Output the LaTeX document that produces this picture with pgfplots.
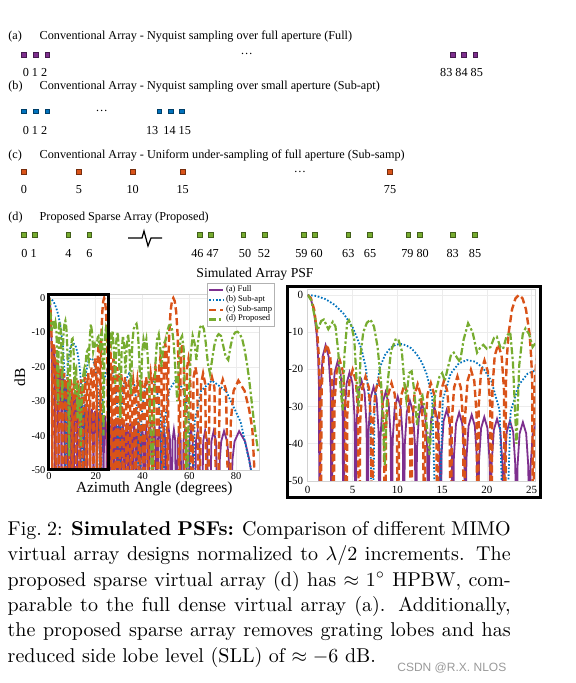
\documentclass[border=0pt]{standalone}
\usepackage{pgfplots}
\pgfplotsset{compat=1.18}
\usepackage{pgfplotstable}
\usepackage{fontspec}
\newfontfamily\tnr{Liberation Serif}
\newfontfamily\arial{Liberation Sans}
\definecolor{cA}{HTML}{7E2F8E}
\definecolor{cB}{HTML}{0072BD}
\definecolor{cC}{HTML}{D95319}
\definecolor{cD}{HTML}{77AC30}

% (a) Full: 86 elements
\pgfplotstableread[row sep=\\]{
t d\\
0 0\\ 0.33 -0.9\\ 0.67 -3.9\\ 1.0 -10.5\\ 1.17 -17.1\\ 1.25 -24\\ 1.332 -80\\
1.439 -25.5\\ 1.666 -16.5\\ 1.999 -13.5\\ 2.333 -16.5\\ 2.559 -25.5\\ 2.666 -80\\
2.773 -29.9\\ 3.000 -20.9\\ 3.334 -17.9\\ 3.667 -20.9\\ 3.894 -29.9\\ 4.001 -80\\
4.108 -32.8\\ 4.335 -23.8\\ 4.669 -20.8\\ 5.003 -23.8\\ 5.230 -32.8\\ 5.337 -80\\
5.444 -35\\ 5.672 -26\\ 6.007 -23\\ 6.342 -26\\ 6.570 -35\\ 6.677 -80\\
6.784 -36.7\\ 7.013 -27.7\\ 7.349 -24.7\\ 7.684 -27.7\\ 7.913 -36.7\\ 8.020 -80\\
8.128 -38.1\\ 8.357 -29.1\\ 8.695 -26.1\\ 9.032 -29.1\\ 9.261 -38.1\\ 9.369 -80\\
9.477 -39.3\\ 9.707 -30.3\\ 10.046 -27.3\\ 10.384 -30.3\\ 10.614 -39.3\\ 10.722 -80\\
10.831 -40.4\\ 11.062 -31.4\\ 11.402 -28.4\\ 11.741 -31.4\\ 11.972 -40.4\\ 12.081 -80\\
12.190 -41.3\\ 12.423 -32.3\\ 12.764 -29.3\\ 13.106 -32.3\\ 13.338 -41.3\\ 13.447 -80\\
13.557 -42.2\\ 13.790 -33.2\\ 14.134 -30.2\\ 14.477 -33.2\\ 14.710 -42.2\\ 14.82 -80\\
14.93 -42.9\\ 15.165 -33.9\\ 15.51 -30.9\\ 15.855 -33.9\\ 16.09 -42.9\\ 16.20 -80\\
16.31 -43.6\\ 16.55 -34.6\\ 16.90 -31.6\\ 17.25 -34.6\\ 17.49 -43.6\\ 17.60 -80\\
17.71 -44.2\\ 17.95 -35.2\\ 18.30 -32.2\\ 18.65 -35.2\\ 18.89 -44.2\\ 19.00 -80\\
19.11 -44.8\\ 19.35 -35.8\\ 19.705 -32.8\\ 20.06 -35.8\\ 20.30 -44.8\\ 20.41 -80\\
20.53 -45.3\\ 20.77 -36.3\\ 21.13 -33.3\\ 21.49 -36.3\\ 21.73 -45.3\\ 21.85 -80\\
21.97 -45.8\\ 22.21 -36.8\\ 22.57 -33.8\\ 22.93 -36.8\\ 23.17 -45.8\\ 23.29 -80\\
23.41 -46.2\\ 23.65 -37.2\\ 24.015 -34.2\\ 24.38 -37.2\\ 24.62 -46.2\\ 24.74 -80\\
24.86 -46.6\\ 25.11 -37.6\\ 25.48 -34.6\\ 25.85 -37.6\\ 26.10 -46.6\\ 26.22 -80\\
26.60 -38\\ 26.97 -35\\ 27.35 -38\\ 27.72 -80\\
28.10 -38.4\\ 28.48 -35.4\\ 28.85 -38.4\\ 29.23 -80\\
29.62 -38.7\\ 30.00 -35.7\\ 30.39 -38.7\\ 30.77 -80\\
31.16 -39\\ 31.55 -36\\ 31.94 -39\\ 32.33 -80\\
32.73 -39.3\\ 33.13 -36.3\\ 33.53 -39.3\\ 33.93 -80\\
34.34 -39.5\\ 34.74 -36.5\\ 35.15 -39.5\\ 35.55 -80\\
35.96 -39.8\\ 36.38 -36.8\\ 36.79 -39.8\\ 37.20 -80\\
37.62 -40\\ 38.05 -37\\ 38.47 -40\\ 38.89 -80\\
39.33 -40.2\\ 39.76 -37.2\\ 40.20 -40.2\\ 40.63 -80\\
41.08 -40.4\\ 41.52 -37.4\\ 41.97 -40.4\\ 42.41 -80\\
42.87 -40.6\\ 43.33 -37.6\\ 43.78 -40.6\\ 44.24 -80\\
44.71 -40.8\\ 45.19 -37.8\\ 45.66 -40.8\\ 46.13 -80\\
46.62 -40.9\\ 47.11 -37.9\\ 47.60 -40.9\\ 48.09 -80\\
48.60 -41\\ 49.11 -38\\ 49.62 -41\\ 50.13 -80\\
50.66 -41.2\\ 51.19 -38.2\\ 51.72 -41.2\\ 52.25 -80\\
52.81 -41.3\\ 53.37 -38.3\\ 53.92 -41.3\\ 54.48 -80\\
55.07 -41.4\\ 55.67 -38.4\\ 56.26 -41.4\\ 56.85 -80\\
57.48 -41.5\\ 58.11 -38.5\\ 58.73 -41.5\\ 59.36 -80\\
60.04 -41.5\\ 60.72 -38.5\\ 61.40 -41.5\\ 62.08 -80\\
62.8 -41.6\\ 63.55 -38.6\\ 64.3 -41.6\\ 65.08 -80\\
65.9 -41.6\\ 66.73 -38.6\\ 67.6 -41.6\\ 68.46 -80\\
69.4 -41.7\\ 70.38 -38.7\\ 71.4 -41.7\\ 72.45 -80\\
73.0 -47\\ 73.6 -41.7\\ 74.8 -38.7\\ 76.14 -41.7\\ 76.85 -47\\ 77.62 -80\\
78.4 -47\\ 79.3 -41.7\\ 81.26 -38.7\\ 83.8 -41.7\\ 85.6 -47\\ 86.9 -52.7\\ 90 -80\\
}\tA

% (b) Sub-apt: 16 elements
\pgfplotstableread[row sep=\\]{
t d\\
0 0\\ 1 -0.28\\ 2 -1.13\\ 3 -2.66\\ 4 -5.0\\ 5 -8.6\\ 6 -14.5\\ 6.5 -19.7\\ 7 -31.8\\ 7.18 -80\\
7.47 -28.3\\ 8.05 -19.5\\ 8.63 -16.1\\ 9.21 -14.3\\ 9.79 -13.4\\ 10.37 -13.15\\ 10.95 -13.5\\ 11.54 -14.3\\ 12.12 -15.8\\ 12.71 -18.0\\ 13.30 -21.4\\ 13.89 -27.5\\ 14.48 -80\\
15.07 -28.2\\ 15.96 -21.1\\ 16.86 -18.4\\ 17.76 -17.5\\ 18.66 -17.9\\ 19.57 -19.6\\ 20.49 -23.1\\ 21.41 -30.9\\ 22.02 -80\\
22.64 -31.3\\ 23.58 -24.1\\ 24.52 -21.2\\ 25.47 -20.2\\ 26.42 -20.4\\ 27.39 -22.0\\ 28.36 -25.3\\ 29.34 -33.0\\ 30.0 -80\\
30.66 -33.9\\ 32.09 -24.9\\ 34.23 -21.9\\ 36.42 -24.9\\ 37.95 -33.9\\ 38.68 -80\\
39.42 -35\\ 41.01 -26\\ 43.43 -23\\ 45.95 -26\\ 47.73 -35\\ 48.59 -80\\
49.46 -35.7\\ 51.38 -26.7\\ 54.34 -23.7\\ 57.52 -26.7\\ 59.88 -35.7\\ 61.04 -80\\
62.25 -36\\ 64.99 -27\\ 69.64 -24\\ 75.65 -27\\ 81.89 -36\\ 86.4 -50\\ 90 -80\\
}\tB

% (c) Sub-samp: 16 elements, spacing 5
\pgfplotstableread[row sep=\\]{
t d\\
0 0\\ 0.358 -0.9\\ 0.717 -3.9\\ 1.075 -10.5\\ 1.254 -17.1\\ 1.347 -24\\ 1.433 -80\\
1.548 -25.3\\ 1.791 -16.3\\ 2.150 -13.3\\ 2.508 -16.3\\ 2.751 -25.3\\ 2.866 -80\\
2.981 -29.6\\ 3.225 -20.6\\ 3.584 -17.6\\ 3.942 -20.6\\ 4.186 -29.6\\ 4.301 -80\\
4.416 -32.1\\ 4.661 -23.1\\ 5.020 -20.1\\ 5.380 -23.1\\ 5.624 -32.1\\ 5.739 -80\\
5.854 -33.9\\ 6.100 -24.9\\ 6.460 -21.9\\ 6.821 -24.9\\ 7.066 -33.9\\ 7.181 -80\\
7.297 -35\\ 7.543 -26\\ 7.904 -23\\ 8.266 -26\\ 8.511 -35\\ 8.627 -80\\
8.743 -35.7\\ 8.990 -26.7\\ 9.353 -23.7\\ 9.715 -26.7\\ 9.962 -35.7\\ 10.078 -80\\
10.195 -36\\ 10.443 -27\\ 10.808 -24\\ 11.172 -27\\ 11.420 -36\\ 11.537 -80\\
11.654 -36\\ 11.904 -27\\ 12.271 -24\\ 12.637 -27\\ 12.887 -36\\ 13.004 -80\\
13.122 -35.7\\ 13.373 -26.7\\ 13.741 -23.7\\ 14.110 -26.7\\ 14.360 -35.7\\ 14.478 -80\\
14.597 -35\\ 14.849 -26\\ 15.220 -23\\ 15.591 -26\\ 15.843 -35\\ 15.962 -80\\
16.082 -33.9\\ 16.336 -24.9\\ 16.710 -21.9\\ 17.084 -24.9\\ 17.338 -33.9\\ 17.458 -80\\
17.579 -32.1\\ 17.835 -23.1\\ 18.212 -20.1\\ 18.589 -23.1\\ 18.845 -32.1\\ 18.966 -80\\
19.088 -29.6\\ 19.346 -20.6\\ 19.727 -17.6\\ 20.107 -20.6\\ 20.365 -29.6\\ 20.487 -80\\
20.610 -25.3\\ 20.871 -16.3\\ 21.256 -13.3\\ 21.640 -16.3\\ 21.901 -25.3\\ 22.024 -80\\
22.12 -24\\ 22.22 -17.1\\ 22.41 -10.5\\ 22.80 -3.9\\ 23.19 -0.9\\ 23.578 0\\ 23.97 -0.9\\ 24.36 -3.9\\ 24.76 -10.5\\ 24.95 -17.1\\ 25.06 -24\\ 25.15 -80\\
25.28 -25.3\\ 25.55 -16.3\\ 25.95 -13.3\\ 26.35 -16.3\\ 26.62 -25.3\\ 26.744 -80\\
27.15 -20.6\\ 27.55 -17.6\\ 27.96 -20.6\\ 28.36 -80\\
28.77 -23.1\\ 29.18 -20.1\\ 29.59 -23.1\\ 30.0 -80\\
30.42 -24.9\\ 30.83 -21.9\\ 31.25 -24.9\\ 31.668 -80\\
32.09 -26\\ 32.52 -23\\ 32.94 -26\\ 33.367 -80\\
33.80 -26.7\\ 34.23 -23.7\\ 34.66 -26.7\\ 35.097 -80\\
35.54 -27\\ 35.98 -24\\ 36.43 -27\\ 36.87 -80\\
37.32 -27\\ 37.78 -24\\ 38.23 -27\\ 38.682 -80\\
39.15 -26.7\\ 39.61 -23.7\\ 40.08 -26.7\\ 40.542 -80\\
41.02 -26\\ 41.50 -23\\ 41.98 -26\\ 42.455 -80\\
42.95 -24.9\\ 43.44 -21.9\\ 43.95 -24.9\\ 44.427 -80\\
44.94 -23.1\\ 45.45 -20.1\\ 45.96 -23.1\\ 46.469 -80\\
47.00 -20.6\\ 47.53 -17.6\\ 48.06 -20.6\\ 48.59 -80\\
49.14 -16.3\\ 49.70 -13.3\\ 50.25 -16.3\\ 50.805 -80\\
50.94 -24\\ 51.09 -17.1\\ 51.38 -10.5\\ 51.95 -3.9\\ 52.53 -0.9\\ 53.13 0\\ 53.73 -0.9\\ 54.34 -3.9\\ 54.96 -10.5\\ 55.27 -17.1\\ 55.43 -24\\ 55.59 -80\\
56.25 -16.3\\ 56.90 -13.3\\ 57.56 -16.3\\ 58.212 -80\\
58.92 -20.6\\ 59.63 -17.6\\ 60.34 -20.6\\ 61.045 -80\\
61.79 -23.1\\ 62.57 -20.1\\ 63.35 -23.1\\ 64.158 -80\\
64.99 -24.9\\ 65.86 -21.9\\ 66.76 -24.9\\ 67.668 -80\\
68.63 -26\\ 69.64 -23\\ 70.70 -26\\ 71.805 -80\\
72.99 -26.7\\ 74.27 -23.7\\ 75.65 -26.7\\ 77.161 -80\\
77.7 -36\\ 78.89 -27\\ 80.93 -24\\ 83.59 -27\\ 85.5 -32.3\\ 86.9 -38\\ 90 -80\\
}\tC

% (d) Proposed sparse array
\pgfplotstableread[row sep=\\]{
t d\\
0 0\\ 0.4 -1.5\\ 0.8 -6\\ 1.1 -9.5\\ 1.5 -7\\ 1.8 -6.6\\ 2.3 -9.2\\ 2.8 -7.2\\ 3.1 -8.5\\ 3.4 -15\\ 3.7 -26\\ 3.9 -31\\
4.1 -16\\ 4.4 -7.5\\ 4.6 -6.8\\ 4.9 -8.5\\ 5.2 -12\\ 5.5 -25\\ 5.7 -30\\ 5.9 -16\\ 6.2 -10\\ 6.6 -7.5\\ 7.0 -6.6\\ 7.4 -8.5\\
7.8 -14\\ 8.2 -24\\ 8.6 -46\\ 8.9 -24\\ 9.3 -15\\ 9.8 -12\\ 10.1 -11.8\\ 10.5 -15\\ 10.8 -24\\ 11.0 -28\\ 11.3 -21\\ 11.6 -20.5\\
11.9 -26\\ 12.2 -35\\ 12.5 -28\\ 12.8 -27\\ 13.2 -33\\ 13.6 -43\\ 13.9 -31\\ 14.3 -26\\ 14.7 -22\\ 15.0 -21\\ 15.3 -23\\ 15.6 -20\\
16.0 -16\\ 16.3 -15.5\\ 16.7 -17\\ 17.0 -18\\ 17.4 -12\\ 17.9 -7.6\\ 18.4 -10\\ 18.9 -15.5\\ 19.3 -14\\ 19.6 -13.4\\ 20.0 -14.5\\
20.4 -14\\ 20.8 -11.5\\ 21.1 -11.2\\ 21.5 -14\\ 21.8 -14.5\\ 22.2 -11\\ 22.6 -10\\ 22.9 -18\\ 23.3 -40\\ 23.6 -19\\ 24.0 -10.5\\
24.3 -9\\ 24.7 -10.5\\ 25.1 -14\\ 25.4 -13\\ 26.0 -10\\ 26.6 -13\\ 27.2 -9.5\\ 27.8 -16\\ 28.3 -25\\ 28.8 -12\\ 29.4 -10\\
30.0 -18\\ 30.5 -35\\ 31.0 -16\\ 31.6 -11\\ 32.2 -14\\ 32.7 -22\\ 33.2 -14\\ 33.8 -10.5\\ 34.4 -15\\ 35.0 -28\\ 35.6 -13\\
36.2 -9\\ 36.8 -8\\ 37.4 -7.5\\ 38.0 -10\\ 38.6 -18\\ 39.2 -30\\ 39.8 -16\\ 40.4 -12\\ 41.0 -14\\ 41.6 -12\\ 42.2 -17\\
42.8 -25\\ 43.5 -40\\ 44.2 -60\\ 44.9 -30\\ 45.6 -18\\ 46.2 -12\\ 46.9 -10.5\\ 47.5 -14\\ 48.1 -20\\ 48.7 -15\\ 49.3 -13\\
50.0 -12\\ 50.6 -9.5\\ 51.3 -8\\ 52.0 -7.8\\ 52.7 -9.5\\ 53.4 -14\\ 54.1 -22\\ 54.8 -30\\ 55.5 -18\\ 56.2 -12\\ 56.9 -11\\
57.6 -15\\ 58.3 -35\\ 59.0 -60\\ 59.8 -28\\ 60.6 -16\\ 61.4 -11\\ 62.2 -13\\ 63.0 -18\\ 63.8 -12\\ 64.6 -8.5\\ 65.4 -7.8\\
66.2 -9\\ 67.0 -13\\ 67.9 -19\\ 68.8 -22\\ 69.7 -18\\ 70.6 -14\\ 71.5 -11.5\\ 72.5 -10.5\\ 73.5 -11\\ 74.5 -14\\ 75.5 -17\\
76.6 -18\\ 77.6 -14\\ 78.6 -11\\ 79.6 -10\\ 80.6 -9.8\\ 81.6 -10.5\\ 82.6 -12\\ 83.6 -15\\ 84.6 -19\\ 85.6 -24\\ 86.6 -30\\
87.6 -36\\ 88.6 -41\\ 89.5 -45\\
}\tD

\pgfplotsset{
  sA/.style={color=cA, line width=0.9pt, solid},
  sB/.style={color=cB, line width=0.9pt, dash pattern=on 0.8pt off 0.9pt},
  sC/.style={color=cC, line width=1.2pt, dash pattern=on 3.6pt off 1.8pt},
  sD/.style={color=cD, line width=1.1pt, dash pattern=on 3.6pt off 1.2pt on 1.2pt off 1.2pt},
  psf/.style={scale only axis, anchor=south west, ymin=-50,
    grid=major, grid style={draw=gray!15, line width=0.3pt},
    axis line style={draw=gray!35, line width=0.3pt},
    major tick length=0pt,
    ytick={-50,-40,-30,-20,-10,0},
    /pgf/number format/assume math mode=true,
    clip mode=individual},
  sq/.style={only marks, mark=square*, mark size=1.17pt,
    mark options={fill=#1, draw=#1!55!black, line width=0.35pt}},
}

\begin{document}
\begin{tikzpicture}
\useasboundingbox (0,0) rectangle (287.5pt,341.5pt);
% ---------- background / diagram axis (pixel coordinates) ----------
\begin{axis}[at={(0pt,0pt)}, anchor=south west, scale only axis,
  width=287.5pt, height=341.5pt, xmin=0, xmax=575, ymin=0, ymax=683,
  y dir=reverse, hide axis, clip=false]
\tikzset{dt/.style={font=\tnr\fontsize{6.1}{7}\selectfont, inner sep=0pt}}
% row (a)
\node[dt, anchor=base west] at (axis cs:8,39.5) {(a)};
\node[dt, anchor=base west] at (axis cs:39.3,39.5) {Conventional Array - Nyquist sampling over full aperture (Full)};
\addplot[sq=cA] coordinates {(24,54.7) (35.7,54.7) (47.3,54.7) (452.7,54.7) (464,54.7) (475.3,54.7)};
\node[dt, anchor=center] at (axis cs:246.7,54) {\ldots};
\node[dt, anchor=base] at (axis cs:35,76.7) {0 1 2};
\node[dt, anchor=base] at (axis cs:461.5,76.7) {83 84 85};
% row (b)
\node[dt, anchor=base west] at (axis cs:8,89.5) {(b)};
\node[dt, anchor=base west] at (axis cs:39.3,89.5) {Conventional Array - Nyquist sampling over small aperture (Sub-apt)};
\addplot[sq=cB] coordinates {(24,111.3) (35.7,111.3) (47.3,111.3) (159.3,111.3) (170.7,111.3) (181.7,111.3)};
\node[dt, anchor=center] at (axis cs:101.7,111) {\ldots};
\node[dt, anchor=base] at (axis cs:35,134.7) {0 1 2};
\node[dt, anchor=base] at (axis cs:168.5,134.7) {13\, 14 15};
% row (c)
\node[dt, anchor=base west] at (axis cs:8,158.5) {(c)};
\node[dt, anchor=base west] at (axis cs:39.3,158.5) {Conventional Array - Uniform under-sampling of full aperture (Sub-samp)};
\addplot[sq=cC] coordinates {(24,171.7) (79,171.7) (132.7,171.7) (182.7,171.7) (390,171.7)};
\node[dt, anchor=center] at (axis cs:300,171.5) {\ldots};
\node[dt, anchor=base] at (axis cs:24,193.3) {0};
\node[dt, anchor=base] at (axis cs:79,193.3) {5};
\node[dt, anchor=base] at (axis cs:132.7,193.3) {10};
\node[dt, anchor=base] at (axis cs:182.7,193.3) {15};
\node[dt, anchor=base] at (axis cs:390,193.3) {75};
% row (d)
\node[dt, anchor=base west] at (axis cs:8,220.8) {(d)};
\node[dt, anchor=base west] at (axis cs:39.3,220.8) {Proposed Sparse Array (Proposed)};
\addplot[sq=cD] coordinates {(24,235) (35,235) (68.3,235) (89.3,235) (200,235) (210.7,235) (243.3,235) (265,235) (304,235) (315,235) (348.3,235) (370,235) (408.3,235) (420,235) (452.7,235) (475,235)};
\draw[line width=0.6pt] (axis cs:128,238) -- (axis cs:142,238) -- (axis cs:144,231) -- (axis cs:148,246) -- (axis cs:151,238) -- (axis cs:162,238);
\node[dt, anchor=base] at (axis cs:29,257.3) {0 1};
\node[dt, anchor=base] at (axis cs:68.3,257.3) {4};
\node[dt, anchor=base] at (axis cs:89.3,257.3) {6};
\node[dt, anchor=base] at (axis cs:205,257.3) {46 47};
\node[dt, anchor=base] at (axis cs:245,257.3) {50};
\node[dt, anchor=base] at (axis cs:264,257.3) {52};
\node[dt, anchor=base] at (axis cs:309,257.3) {59 60};
\node[dt, anchor=base] at (axis cs:348.3,257.3) {63};
\node[dt, anchor=base] at (axis cs:370,257.3) {65};
\node[dt, anchor=base] at (axis cs:415,257.3) {79 80};
\node[dt, anchor=base] at (axis cs:452.7,257.3) {83};
\node[dt, anchor=base] at (axis cs:475,257.3) {85};
% title of PSF panel
\node[font=\tnr\fontsize{6.85}{8}\selectfont, inner sep=0pt, anchor=center] at (axis cs:255,274) {Simulated Array PSF};
% frame around zoomed plot
\draw[line width=1.5pt] (axis cs:287,287) rectangle (axis cs:540,497);
% caption
\node[anchor=north west, inner sep=0pt, text width=251.5pt, align=justify,
  font=\fontsize{10}{12.67}\selectfont] at (axis cs:7.3,521) {%
Fig.~2: \textbf{Simulated PSFs:} Comparison of different MIMO\linebreak
virtual array designs normalized to $\lambda/2$ increments. The\linebreak
proposed sparse virtual array (d) has $\approx 1^\circ$ HPBW, com-\linebreak
parable to the full dense virtual array (a). Additionally,\linebreak
the proposed sparse array removes grating lobes and has\linebreak
reduced side lobe level (SLL) of $\approx -6$ dB.};
\node[anchor=base west, inner sep=0pt, font=\arial\fontsize{6}{7}\selectfont, text=black!40] at (axis cs:397,671) {CSDN @R.X. NLOS};
\end{axis}

% ---------- left PSF: 0 to 90 degrees ----------
\begin{axis}[psf, at={(24.5pt,106.5pt)}, width=105.3pt, height=87.7pt,
  xmin=0, xmax=90, ymax=1, xtick={0,20,40,60,80},
  ticklabel style={font=\tnr\fontsize{5.2}{6}\selectfont, inner sep=0pt},
  xticklabel style={yshift=-1pt}, yticklabel style={xshift=-1.6pt},
  xlabel={Azimuth Angle (degrees)}, ylabel={dB},
  label style={font=\tnr\fontsize{7.7}{9}\selectfont},
  xlabel style={at={(axis description cs:0.5,-0.108)}, anchor=center},
  ylabel style={at={(axis description cs:-0.138,0.53)}, anchor=center},
  legend style={at={(axis description cs:0.750,1.066)}, anchor=north west,
    font=\tnr\fontsize{4.3}{5}\selectfont, draw=gray!60, line width=0.3pt,
    fill=white, inner sep=0.4pt, row sep=-1.2pt,
    nodes={inner sep=0.8pt}},
  legend cell align=left,
  legend image code/.code={\draw[#1] (0pt,0pt) -- (7pt,0pt);},
]
\addplot[sA] table[x=t,y=d] {\tA};
\addplot[sB] table[x=t,y=d] {\tB};
\addplot[sC] table[x=t,y=d] {\tC};
\addplot[sD] table[x=t,y=d] {\tD};
\legend{(a) Full,(b) Sub-apt,(c) Sub-samp,(d) Proposed}
\draw[line width=1.5pt] (axis cs:0,-50) rectangle (axis cs:25.5,1);
\end{axis}

% ---------- right PSF: zoom 0 to 25 degrees ----------
\begin{axis}[psf, at={(153.85pt,101pt)}, width=113.8pt, height=95.8pt,
  xmin=0, xmax=25.4, ymax=1.5, xtick={0,5,10,15,20,25},
  ticklabel style={font=\tnr\fontsize{5.5}{7}\selectfont, inner sep=0pt},
  xticklabel style={yshift=-2.5pt}, yticklabel style={xshift=-2.1pt},
]
\addplot[sA] table[x=t,y=d] {\tA};
\addplot[sB] table[x=t,y=d] {\tB};
\addplot[sC] table[x=t,y=d] {\tC};
\addplot[sD] table[x=t,y=d] {\tD};
\end{axis}
\end{tikzpicture}
\end{document}
